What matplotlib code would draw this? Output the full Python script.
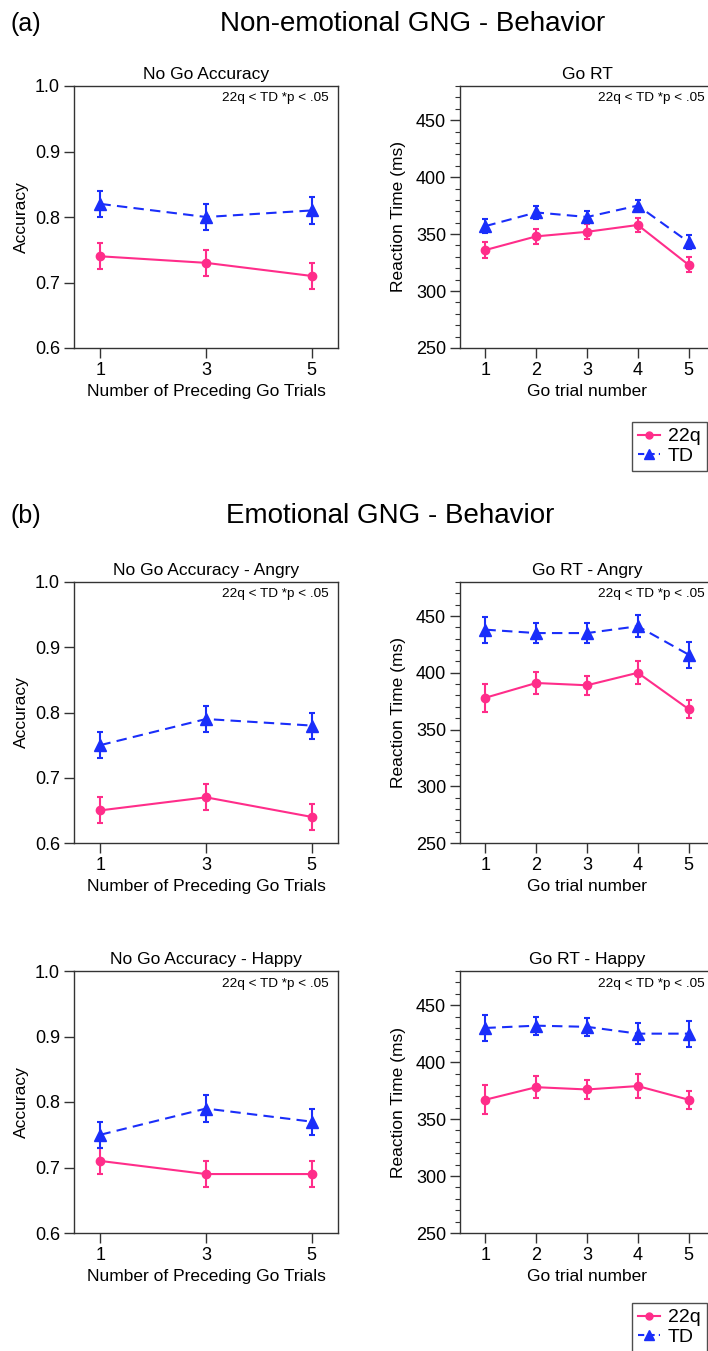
import matplotlib
matplotlib.use("Agg")
import matplotlib.pyplot as plt
from matplotlib.lines import Line2D
from matplotlib.ticker import MultipleLocator

plt.rcParams['font.family'] = ['Liberation Sans', 'DejaVu Sans']

PINK = '#FF2D8A'
BLUE = '#1A2EFA'

# ---- data ----
acc_x = [1, 3, 5]
rt_x = [1, 2, 3, 4, 5]

a_acc_22q = [0.74, 0.73, 0.71]
a_acc_22q_err = [0.02, 0.02, 0.02]
a_acc_td = [0.82, 0.80, 0.81]
a_acc_td_err = [0.02, 0.02, 0.02]

a_rt_22q = [336, 348, 352, 358, 323]
a_rt_22q_err = [7, 6.5, 6.5, 6, 6.5]
a_rt_td = [357, 369, 365, 375, 343]
a_rt_td_err = [6, 5.5, 5, 5, 6]

ang_acc_22q = [0.65, 0.67, 0.64]
ang_acc_22q_err = [0.02, 0.02, 0.02]
ang_acc_td = [0.75, 0.79, 0.78]
ang_acc_td_err = [0.02, 0.02, 0.02]

ang_rt_22q = [378, 391, 389, 400, 368]
ang_rt_22q_err = [12.5, 9.5, 8.5, 10, 8]
ang_rt_td = [438, 435, 435, 441, 416]
ang_rt_td_err = [11.5, 8.5, 8.5, 9.5, 11.5]

hap_acc_22q = [0.71, 0.69, 0.69]
hap_acc_22q_err = [0.02, 0.02, 0.02]
hap_acc_td = [0.75, 0.79, 0.77]
hap_acc_td_err = [0.02, 0.02, 0.02]

hap_rt_22q = [367, 378, 376, 379, 367]
hap_rt_22q_err = [12.5, 9.5, 8.5, 10.5, 8]
hap_rt_td = [430, 432, 431, 425, 425]
hap_rt_td_err = [11.5, 8, 8, 9.5, 11.5]

W, H = 708, 1351
fig = plt.figure(figsize=(W / 100, H / 100), dpi=100)


def ax_px(l, t, r, b):
    return fig.add_axes([l / W, 1 - b / H, (r - l) / W, (b - t) / H])


ANNOT = '22q < TD *p < .05'
FS = 12.5


def style(ax):
    for s in ax.spines.values():
        s.set_color('#333333')
        s.set_linewidth(1.0)
    ax.tick_params(axis='both', which='major', direction='out', length=7,
                   width=1.0, color='#333333', labelsize=13, pad=3)
    ax.tick_params(axis='both', which='minor', direction='out', length=3.5,
                   width=0.8, color='#333333')


def plot_series(ax, x, y22, e22, ytd, etd):
    ax.errorbar(x, y22, yerr=e22, color=PINK, lw=1.5, ls='-', marker='o',
                ms=6, capsize=2.5, elinewidth=1.5, capthick=1.5)
    ax.errorbar(x, ytd, yerr=etd, color=BLUE, lw=1.5, ls=(0, (5, 3)),
                marker='^', ms=8, capsize=2.5, elinewidth=1.5, capthick=1.5)


def acc_panel(ax, title, y22, e22, ytd, etd):
    style(ax)
    plot_series(ax, acc_x, y22, e22, ytd, etd)
    ax.set_xlim(0.5, 5.5)
    ax.set_ylim(0.6, 1.0)
    ax.set_xticks(acc_x)
    ax.set_yticks([0.6, 0.7, 0.8, 0.9, 1.0])
    ax.set_yticklabels(['0.6', '0.7', '0.8', '0.9', '1.0'])
    ax.set_title(title, fontsize=FS, pad=5)
    ax.set_ylabel('Accuracy', fontsize=FS, labelpad=4)
    ax.set_xlabel('Number of Preceding Go Trials', fontsize=FS, labelpad=4)
    ax.annotate(ANNOT, xy=(1, 1), xycoords='axes fraction', xytext=(-7, -9),
                textcoords='offset points', ha='right', va='center', fontsize=9.7)


def rt_panel(ax, title, y22, e22, ytd, etd):
    style(ax)
    plot_series(ax, rt_x, y22, e22, ytd, etd)
    ax.set_xlim(0.5, 5.5)
    ax.set_ylim(250, 480)
    ax.set_xticks(rt_x)
    ax.set_yticks([250, 300, 350, 400, 450])
    ax.yaxis.set_minor_locator(MultipleLocator(10))
    ax.set_title(title, fontsize=FS, pad=5)
    ax.set_ylabel('Reaction Time (ms)', fontsize=FS, labelpad=7)
    ax.set_xlabel('Go trial number', fontsize=FS, labelpad=4)
    ax.annotate(ANNOT, xy=(1, 1), xycoords='axes fraction', xytext=(-7, -9),
                textcoords='offset points', ha='right', va='center', fontsize=9.7)


# (a)
ax1 = ax_px(74, 86, 338, 348)
acc_panel(ax1, 'No Go Accuracy', a_acc_22q, a_acc_22q_err, a_acc_td, a_acc_td_err)
ax2 = ax_px(460, 86, 714, 348)
rt_panel(ax2, 'Go RT', a_rt_22q, a_rt_22q_err, a_rt_td, a_rt_td_err)

# (b) angry
ax3 = ax_px(74, 582, 338, 843)
acc_panel(ax3, 'No Go Accuracy - Angry', ang_acc_22q, ang_acc_22q_err, ang_acc_td, ang_acc_td_err)
ax4 = ax_px(460, 582, 714, 843)
rt_panel(ax4, 'Go RT - Angry', ang_rt_22q, ang_rt_22q_err, ang_rt_td, ang_rt_td_err)

# (b) happy
ax5 = ax_px(74, 971, 338, 1233)
acc_panel(ax5, 'No Go Accuracy - Happy', hap_acc_22q, hap_acc_22q_err, hap_acc_td, hap_acc_td_err)
ax6 = ax_px(460, 971, 714, 1233)
rt_panel(ax6, 'Go RT - Happy', hap_rt_22q, hap_rt_22q_err, hap_rt_td, hap_rt_td_err)

# headings
fig.text(10 / W, 1 - 24 / H, '(a)', fontsize=18, ha='left', va='center')
fig.text(413 / W, 1 - 24 / H, 'Non-emotional GNG - Behavior', fontsize=20, ha='center', va='center')
fig.text(10 / W, 1 - 516 / H, '(b)', fontsize=18, ha='left', va='center')
fig.text(390 / W, 1 - 516 / H, 'Emotional GNG - Behavior', fontsize=20, ha='center', va='center')

handles = [
    Line2D([], [], color=PINK, lw=1.5, ls='-', marker='o', ms=5),
    Line2D([], [], color=BLUE, lw=1.5, ls=(0, (3, 2)), marker='^', ms=7),
]
labels = ['22q', 'TD']
for top in (422, 1303):
    leg = fig.legend(handles, labels, loc='upper left',
                     bbox_to_anchor=(632 / W, 1 - top / H), fontsize=14,
                     frameon=True, fancybox=False, handlelength=1.15,
                     handletextpad=0.4, borderpad=0.3, labelspacing=0.1,
                     borderaxespad=0)
    leg.get_frame().set_edgecolor('#222222')
    leg.get_frame().set_linewidth(1.0)

fig.savefig('out.png', dpi=100)
